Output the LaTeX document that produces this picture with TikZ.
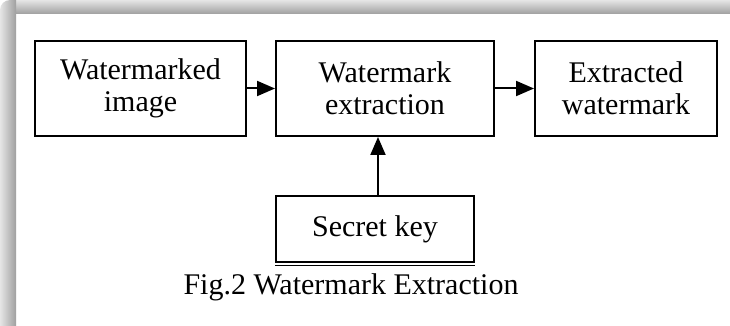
\documentclass[tikz,border=0pt]{standalone}
\usepackage{fontspec}
\setmainfont{Liberation Serif}
\usetikzlibrary{arrows.meta}

\begin{document}
\begin{tikzpicture}[x=0.5pt, y=-0.5pt,
    block/.style={draw, line width=1pt, minimum height=47.5pt, align=center,
        inner sep=0pt, font=\fontsize{15}{16}\selectfont},
    link/.style={-{Triangle[length=9pt, width=7.5pt]}, line width=1pt}]
\useasboundingbox (0, 0) rectangle (730, 326);
\fill [white] (0, 0) rectangle (730, 326);

% shadow of the frame
\begin{scope}
\clip [rounded corners=5pt] (0, 0) rectangle (760, 360);
\shade [top color=gray!20, bottom color=gray!75] (16, 0) rectangle (730, 14);
\shade [left color=gray!20, right color=gray!75] (0, 0) rectangle (16, 326);
\end{scope}

\node [block, minimum width=105.5pt] (marked) at (140.5, 88.5) {Watermarked\\image};
\node [block, minimum width=109pt] (extract) at (385, 88.5) {Watermark\\extraction};
\node [block, minimum width=91pt] (result) at (626, 88.5) {Extracted\\watermark};
\node [block, minimum width=99pt, minimum height=33pt] (key) at (375, 229.5) {Secret key};
\draw [line width=0.6pt] ([yshift=-1.2pt]key.south west) -- ([yshift=-1.2pt]key.south east);

\draw [link] (marked) -- (extract);
\draw [link] (extract) -- (result);
\draw [link] ([xshift=1.5pt]key.north) -- ([xshift=1.5pt]key.north |- extract.south);

\node [anchor=base, inner sep=0pt, font=\fontsize{15}{16}\selectfont] (caption) at (351, 295) {Fig.2 Watermark Extraction};
\end{tikzpicture}
\end{document}
